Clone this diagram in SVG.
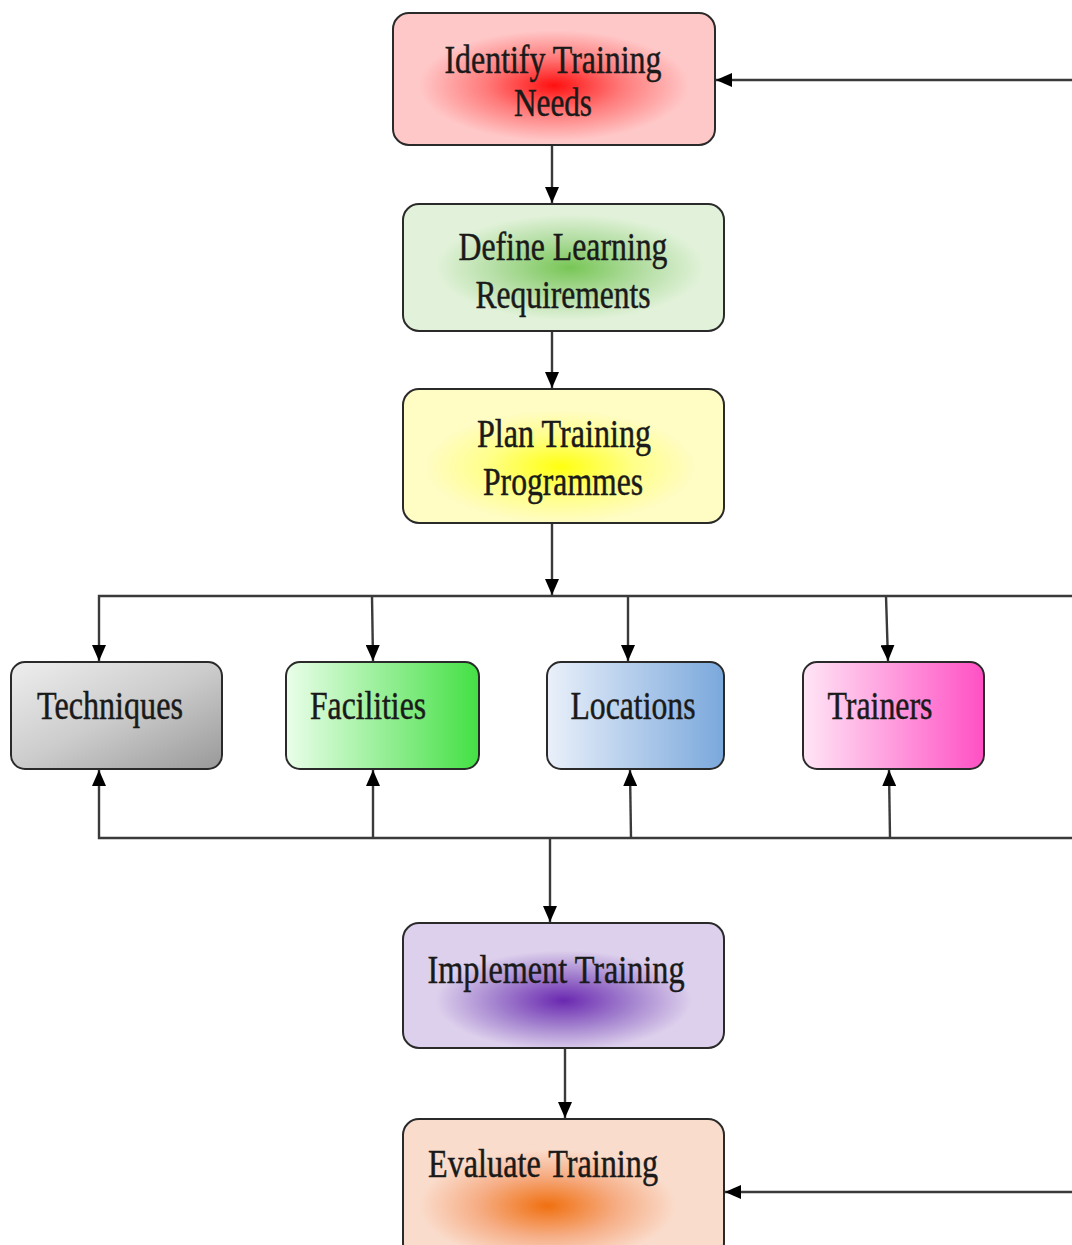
<svg xmlns="http://www.w3.org/2000/svg" width="1072" height="1245" viewBox="0 0 1072 1245">
<style>
.box{stroke:#2a2a2a;stroke-width:2}
.lbl{font-family:"Liberation Serif","Times New Roman",serif;font-size:40px;fill:#1a1a1a;stroke:#1a1a1a;stroke-width:0.5}
.ln{fill:none;stroke:#3a3a3a;stroke-width:2.4}
</style>
<defs>
<marker id="ah" viewBox="0 0 16 14" refX="16" refY="7" markerWidth="16" markerHeight="14" markerUnits="userSpaceOnUse" orient="auto">
<path d="M0,0 L16,7 L0,14 Z" fill="#000"/>
</marker>
<radialGradient id="gRed" cx="0.5" cy="0.55" r="0.42">
<stop offset="0" stop-color="#ff1010"/><stop offset="0.5" stop-color="#ff7a7a"/><stop offset="1" stop-color="#ffc8c8"/>
</radialGradient>
<radialGradient id="gGreen" cx="0.52" cy="0.5" r="0.42">
<stop offset="0" stop-color="#78c656"/><stop offset="0.55" stop-color="#b4dea4"/><stop offset="1" stop-color="#e2f2da"/>
</radialGradient>
<radialGradient id="gYel" cx="0.49" cy="0.58" r="0.42">
<stop offset="0" stop-color="#ffff10"/><stop offset="0.55" stop-color="#ffff8a"/><stop offset="1" stop-color="#fffcc4"/>
</radialGradient>
<radialGradient id="gPur" cx="0.5" cy="0.62" r="0.4">
<stop offset="0" stop-color="#6a28b0"/><stop offset="0.55" stop-color="#a686d0"/><stop offset="1" stop-color="#ddd0ec"/>
</radialGradient>
<radialGradient id="gOr" cx="0.45" cy="0.62" r="0.4">
<stop offset="0" stop-color="#f07010"/><stop offset="0.55" stop-color="#f6ae86"/><stop offset="1" stop-color="#fadccc"/>
</radialGradient>
<linearGradient id="gGray" x1="0" y1="0" x2="1" y2="1">
<stop offset="0" stop-color="#eeeeee"/><stop offset="0.5" stop-color="#cccccc"/><stop offset="1" stop-color="#999999"/>
</linearGradient>
<linearGradient id="gLGreen" x1="0" y1="0" x2="1" y2="0">
<stop offset="0" stop-color="#eafeea"/><stop offset="1" stop-color="#44e044"/>
</linearGradient>
<linearGradient id="gBlue" x1="0" y1="0" x2="1" y2="0">
<stop offset="0" stop-color="#eaf0fa"/><stop offset="1" stop-color="#7aa8dc"/>
</linearGradient>
<linearGradient id="gPink" x1="0" y1="0" x2="1" y2="0">
<stop offset="0" stop-color="#ffe6f6"/><stop offset="1" stop-color="#ff50c4"/>
</linearGradient>
</defs>
<rect width="1072" height="1245" fill="#ffffff"/>

<g id="connectors">
<line class="ln" x1="552" y1="146" x2="552" y2="203" marker-end="url(#ah)"/>
<line class="ln" x1="552" y1="332" x2="552" y2="388" marker-end="url(#ah)"/>
<line class="ln" x1="552" y1="524" x2="552" y2="595" marker-end="url(#ah)"/>
<polyline class="ln" points="1072,596 99,596 99,661" marker-end="url(#ah)"/>
<line class="ln" x1="372" y1="596" x2="373" y2="661" marker-end="url(#ah)"/>
<line class="ln" x1="628" y1="596" x2="628" y2="661" marker-end="url(#ah)"/>
<line class="ln" x1="886" y1="596" x2="888" y2="661" marker-end="url(#ah)"/>
<polyline class="ln" points="1072,838 99,838 99,770" marker-end="url(#ah)"/>
<line class="ln" x1="373" y1="838" x2="373" y2="770" marker-end="url(#ah)"/>
<line class="ln" x1="631" y1="838" x2="630" y2="770" marker-end="url(#ah)"/>
<line class="ln" x1="890" y1="838" x2="889" y2="770" marker-end="url(#ah)"/>
<line class="ln" x1="550" y1="838" x2="550" y2="922" marker-end="url(#ah)"/>
<line class="ln" x1="565" y1="1049" x2="565" y2="1118" marker-end="url(#ah)"/>
<line class="ln" x1="1072" y1="80" x2="716" y2="80" marker-end="url(#ah)"/>
<line class="ln" x1="1072" y1="1192" x2="725" y2="1192" marker-end="url(#ah)"/>
</g>

<g id="identify">
<rect class="box" x="393" y="13" width="322" height="132" rx="16" fill="url(#gRed)"/>
<text class="lbl" x="553" y="73" text-anchor="middle" textLength="217" lengthAdjust="spacingAndGlyphs">Identify Training</text>
<text class="lbl" x="553" y="116" text-anchor="middle" textLength="78" lengthAdjust="spacingAndGlyphs">Needs</text>
</g>
<g id="define">
<rect class="box" x="403" y="204" width="321" height="127" rx="16" fill="url(#gGreen)"/>
<text class="lbl" x="563" y="260" text-anchor="middle" textLength="209" lengthAdjust="spacingAndGlyphs">Define Learning</text>
<text class="lbl" x="563" y="308" text-anchor="middle" textLength="175" lengthAdjust="spacingAndGlyphs">Requirements</text>
</g>
<g id="plan">
<rect class="box" x="403" y="389" width="321" height="134" rx="16" fill="url(#gYel)"/>
<text class="lbl" x="564" y="447" text-anchor="middle" textLength="174" lengthAdjust="spacingAndGlyphs">Plan Training</text>
<text class="lbl" x="563" y="495" text-anchor="middle" textLength="160" lengthAdjust="spacingAndGlyphs">Programmes</text>
</g>
<g id="techniques">
<rect class="box" x="11" y="662" width="211" height="107" rx="14" fill="url(#gGray)"/>
<text class="lbl" x="110" y="719" text-anchor="middle" textLength="146" lengthAdjust="spacingAndGlyphs">Techniques</text>
</g>
<g id="facilities">
<rect class="box" x="286" y="662" width="193" height="107" rx="14" fill="url(#gLGreen)"/>
<text class="lbl" x="368" y="719" text-anchor="middle" textLength="116" lengthAdjust="spacingAndGlyphs">Facilities</text>
</g>
<g id="locations">
<rect class="box" x="547" y="662" width="177" height="107" rx="14" fill="url(#gBlue)"/>
<text class="lbl" x="633" y="719" text-anchor="middle" textLength="125" lengthAdjust="spacingAndGlyphs">Locations</text>
</g>
<g id="trainers">
<rect class="box" x="803" y="662" width="181" height="107" rx="14" fill="url(#gPink)"/>
<text class="lbl" x="880" y="719" text-anchor="middle" textLength="105" lengthAdjust="spacingAndGlyphs">Trainers</text>
</g>
<g id="implement">
<rect class="box" x="403" y="923" width="321" height="125" rx="16" fill="url(#gPur)"/>
<text class="lbl" x="556" y="983" text-anchor="middle" textLength="257" lengthAdjust="spacingAndGlyphs">Implement Training</text>
</g>
<g id="evaluate">
<rect class="box" x="403" y="1119" width="321" height="140" rx="16" fill="url(#gOr)"/>
<text class="lbl" x="543" y="1177" text-anchor="middle" textLength="230" lengthAdjust="spacingAndGlyphs">Evaluate Training</text>
</g>
</svg>
